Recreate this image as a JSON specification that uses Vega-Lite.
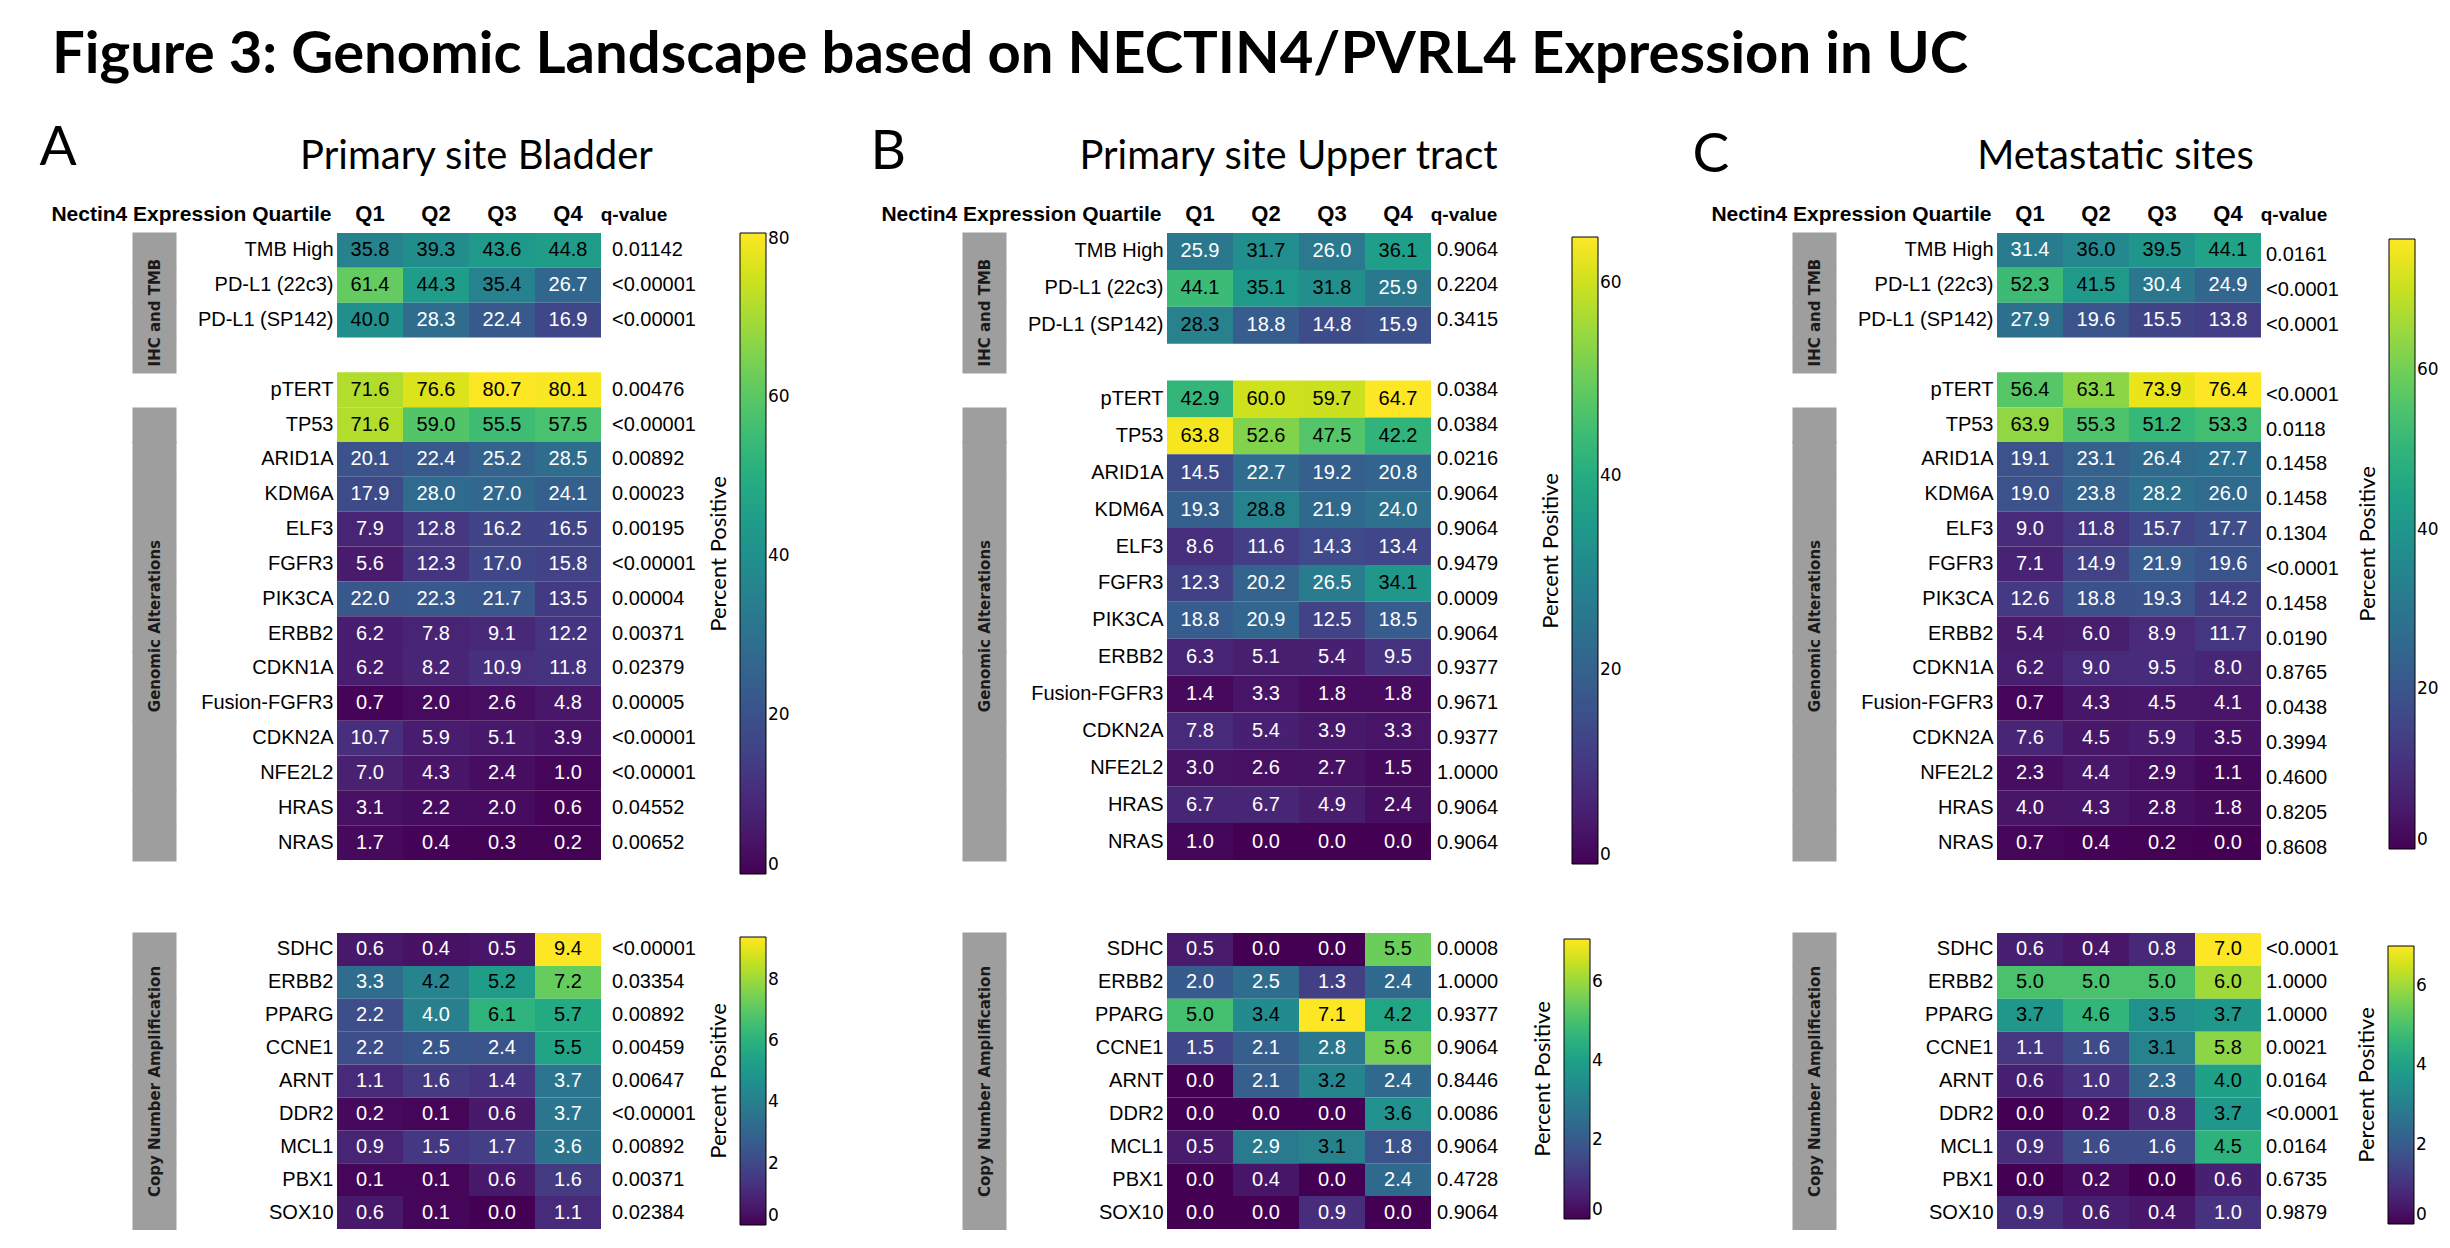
{
"$schema": "https://vega.github.io/schema/vega-lite/v6.json",
"autosize": {"type": "pad"},
"padding": {"left": 39, "top": 27, "right": 0, "bottom": 0},
"background": "white",
"title": {"text": "Figure 3: Genomic Landscape based on NECTIN4/PVRL4 Expression in UC", "anchor": "start", "frame": "bounds", "dx": 13, "offset": -23, "baseline": "bottom", "font": "Lato", "fontSize": 58, "fontWeight": "bold", "color": "black"},
"datasets": {
"cells": [
{"panel":"A","section":"top","gene":"TMB High","quartile":"Q1","pct":35.8},{"panel":"A","section":"top","gene":"TMB High","quartile":"Q2","pct":39.3},{"panel":"A","section":"top","gene":"TMB High","quartile":"Q3","pct":43.6},{"panel":"A","section":"top","gene":"TMB High","quartile":"Q4","pct":44.8},
{"panel":"A","section":"top","gene":"PD-L1 (22c3)","quartile":"Q1","pct":61.4},{"panel":"A","section":"top","gene":"PD-L1 (22c3)","quartile":"Q2","pct":44.3},{"panel":"A","section":"top","gene":"PD-L1 (22c3)","quartile":"Q3","pct":35.4},{"panel":"A","section":"top","gene":"PD-L1 (22c3)","quartile":"Q4","pct":26.7},
{"panel":"A","section":"top","gene":"PD-L1 (SP142)","quartile":"Q1","pct":40.0},{"panel":"A","section":"top","gene":"PD-L1 (SP142)","quartile":"Q2","pct":28.3},{"panel":"A","section":"top","gene":"PD-L1 (SP142)","quartile":"Q3","pct":22.4},{"panel":"A","section":"top","gene":"PD-L1 (SP142)","quartile":"Q4","pct":16.9},
{"panel":"A","section":"top","gene":"pTERT","quartile":"Q1","pct":71.6},{"panel":"A","section":"top","gene":"pTERT","quartile":"Q2","pct":76.6},{"panel":"A","section":"top","gene":"pTERT","quartile":"Q3","pct":80.7},{"panel":"A","section":"top","gene":"pTERT","quartile":"Q4","pct":80.1},
{"panel":"A","section":"top","gene":"TP53","quartile":"Q1","pct":71.6},{"panel":"A","section":"top","gene":"TP53","quartile":"Q2","pct":59.0},{"panel":"A","section":"top","gene":"TP53","quartile":"Q3","pct":55.5},{"panel":"A","section":"top","gene":"TP53","quartile":"Q4","pct":57.5},
{"panel":"A","section":"top","gene":"ARID1A","quartile":"Q1","pct":20.1},{"panel":"A","section":"top","gene":"ARID1A","quartile":"Q2","pct":22.4},{"panel":"A","section":"top","gene":"ARID1A","quartile":"Q3","pct":25.2},{"panel":"A","section":"top","gene":"ARID1A","quartile":"Q4","pct":28.5},
{"panel":"A","section":"top","gene":"KDM6A","quartile":"Q1","pct":17.9},{"panel":"A","section":"top","gene":"KDM6A","quartile":"Q2","pct":28.0},{"panel":"A","section":"top","gene":"KDM6A","quartile":"Q3","pct":27.0},{"panel":"A","section":"top","gene":"KDM6A","quartile":"Q4","pct":24.1},
{"panel":"A","section":"top","gene":"ELF3","quartile":"Q1","pct":7.9},{"panel":"A","section":"top","gene":"ELF3","quartile":"Q2","pct":12.8},{"panel":"A","section":"top","gene":"ELF3","quartile":"Q3","pct":16.2},{"panel":"A","section":"top","gene":"ELF3","quartile":"Q4","pct":16.5},
{"panel":"A","section":"top","gene":"FGFR3","quartile":"Q1","pct":5.6},{"panel":"A","section":"top","gene":"FGFR3","quartile":"Q2","pct":12.3},{"panel":"A","section":"top","gene":"FGFR3","quartile":"Q3","pct":17.0},{"panel":"A","section":"top","gene":"FGFR3","quartile":"Q4","pct":15.8},
{"panel":"A","section":"top","gene":"PIK3CA","quartile":"Q1","pct":22.0},{"panel":"A","section":"top","gene":"PIK3CA","quartile":"Q2","pct":22.3},{"panel":"A","section":"top","gene":"PIK3CA","quartile":"Q3","pct":21.7},{"panel":"A","section":"top","gene":"PIK3CA","quartile":"Q4","pct":13.5},
{"panel":"A","section":"top","gene":"ERBB2","quartile":"Q1","pct":6.2},{"panel":"A","section":"top","gene":"ERBB2","quartile":"Q2","pct":7.8},{"panel":"A","section":"top","gene":"ERBB2","quartile":"Q3","pct":9.1},{"panel":"A","section":"top","gene":"ERBB2","quartile":"Q4","pct":12.2},
{"panel":"A","section":"top","gene":"CDKN1A","quartile":"Q1","pct":6.2},{"panel":"A","section":"top","gene":"CDKN1A","quartile":"Q2","pct":8.2},{"panel":"A","section":"top","gene":"CDKN1A","quartile":"Q3","pct":10.9},{"panel":"A","section":"top","gene":"CDKN1A","quartile":"Q4","pct":11.8},
{"panel":"A","section":"top","gene":"Fusion-FGFR3","quartile":"Q1","pct":0.7},{"panel":"A","section":"top","gene":"Fusion-FGFR3","quartile":"Q2","pct":2.0},{"panel":"A","section":"top","gene":"Fusion-FGFR3","quartile":"Q3","pct":2.6},{"panel":"A","section":"top","gene":"Fusion-FGFR3","quartile":"Q4","pct":4.8},
{"panel":"A","section":"top","gene":"CDKN2A","quartile":"Q1","pct":10.7},{"panel":"A","section":"top","gene":"CDKN2A","quartile":"Q2","pct":5.9},{"panel":"A","section":"top","gene":"CDKN2A","quartile":"Q3","pct":5.1},{"panel":"A","section":"top","gene":"CDKN2A","quartile":"Q4","pct":3.9},
{"panel":"A","section":"top","gene":"NFE2L2","quartile":"Q1","pct":7.0},{"panel":"A","section":"top","gene":"NFE2L2","quartile":"Q2","pct":4.3},{"panel":"A","section":"top","gene":"NFE2L2","quartile":"Q3","pct":2.4},{"panel":"A","section":"top","gene":"NFE2L2","quartile":"Q4","pct":1.0},
{"panel":"A","section":"top","gene":"HRAS","quartile":"Q1","pct":3.1},{"panel":"A","section":"top","gene":"HRAS","quartile":"Q2","pct":2.2},{"panel":"A","section":"top","gene":"HRAS","quartile":"Q3","pct":2.0},{"panel":"A","section":"top","gene":"HRAS","quartile":"Q4","pct":0.6},
{"panel":"A","section":"top","gene":"NRAS","quartile":"Q1","pct":1.7},{"panel":"A","section":"top","gene":"NRAS","quartile":"Q2","pct":0.4},{"panel":"A","section":"top","gene":"NRAS","quartile":"Q3","pct":0.3},{"panel":"A","section":"top","gene":"NRAS","quartile":"Q4","pct":0.2},
{"panel":"A","section":"cn","gene":"SDHC","quartile":"Q1","pct":0.6},{"panel":"A","section":"cn","gene":"SDHC","quartile":"Q2","pct":0.4},{"panel":"A","section":"cn","gene":"SDHC","quartile":"Q3","pct":0.5},{"panel":"A","section":"cn","gene":"SDHC","quartile":"Q4","pct":9.4},
{"panel":"A","section":"cn","gene":"ERBB2","quartile":"Q1","pct":3.3},{"panel":"A","section":"cn","gene":"ERBB2","quartile":"Q2","pct":4.2},{"panel":"A","section":"cn","gene":"ERBB2","quartile":"Q3","pct":5.2},{"panel":"A","section":"cn","gene":"ERBB2","quartile":"Q4","pct":7.2},
{"panel":"A","section":"cn","gene":"PPARG","quartile":"Q1","pct":2.2},{"panel":"A","section":"cn","gene":"PPARG","quartile":"Q2","pct":4.0},{"panel":"A","section":"cn","gene":"PPARG","quartile":"Q3","pct":6.1},{"panel":"A","section":"cn","gene":"PPARG","quartile":"Q4","pct":5.7},
{"panel":"A","section":"cn","gene":"CCNE1","quartile":"Q1","pct":2.2},{"panel":"A","section":"cn","gene":"CCNE1","quartile":"Q2","pct":2.5},{"panel":"A","section":"cn","gene":"CCNE1","quartile":"Q3","pct":2.4},{"panel":"A","section":"cn","gene":"CCNE1","quartile":"Q4","pct":5.5},
{"panel":"A","section":"cn","gene":"ARNT","quartile":"Q1","pct":1.1},{"panel":"A","section":"cn","gene":"ARNT","quartile":"Q2","pct":1.6},{"panel":"A","section":"cn","gene":"ARNT","quartile":"Q3","pct":1.4},{"panel":"A","section":"cn","gene":"ARNT","quartile":"Q4","pct":3.7},
{"panel":"A","section":"cn","gene":"DDR2","quartile":"Q1","pct":0.2},{"panel":"A","section":"cn","gene":"DDR2","quartile":"Q2","pct":0.1},{"panel":"A","section":"cn","gene":"DDR2","quartile":"Q3","pct":0.6},{"panel":"A","section":"cn","gene":"DDR2","quartile":"Q4","pct":3.7},
{"panel":"A","section":"cn","gene":"MCL1","quartile":"Q1","pct":0.9},{"panel":"A","section":"cn","gene":"MCL1","quartile":"Q2","pct":1.5},{"panel":"A","section":"cn","gene":"MCL1","quartile":"Q3","pct":1.7},{"panel":"A","section":"cn","gene":"MCL1","quartile":"Q4","pct":3.6},
{"panel":"A","section":"cn","gene":"PBX1","quartile":"Q1","pct":0.1},{"panel":"A","section":"cn","gene":"PBX1","quartile":"Q2","pct":0.1},{"panel":"A","section":"cn","gene":"PBX1","quartile":"Q3","pct":0.6},{"panel":"A","section":"cn","gene":"PBX1","quartile":"Q4","pct":1.6},
{"panel":"A","section":"cn","gene":"SOX10","quartile":"Q1","pct":0.6},{"panel":"A","section":"cn","gene":"SOX10","quartile":"Q2","pct":0.1},{"panel":"A","section":"cn","gene":"SOX10","quartile":"Q3","pct":0.0},{"panel":"A","section":"cn","gene":"SOX10","quartile":"Q4","pct":1.1},
{"panel":"B","section":"top","gene":"TMB High","quartile":"Q1","pct":25.9},{"panel":"B","section":"top","gene":"TMB High","quartile":"Q2","pct":31.7},{"panel":"B","section":"top","gene":"TMB High","quartile":"Q3","pct":26.0},{"panel":"B","section":"top","gene":"TMB High","quartile":"Q4","pct":36.1},
{"panel":"B","section":"top","gene":"PD-L1 (22c3)","quartile":"Q1","pct":44.1},{"panel":"B","section":"top","gene":"PD-L1 (22c3)","quartile":"Q2","pct":35.1},{"panel":"B","section":"top","gene":"PD-L1 (22c3)","quartile":"Q3","pct":31.8},{"panel":"B","section":"top","gene":"PD-L1 (22c3)","quartile":"Q4","pct":25.9},
{"panel":"B","section":"top","gene":"PD-L1 (SP142)","quartile":"Q1","pct":28.3},{"panel":"B","section":"top","gene":"PD-L1 (SP142)","quartile":"Q2","pct":18.8},{"panel":"B","section":"top","gene":"PD-L1 (SP142)","quartile":"Q3","pct":14.8},{"panel":"B","section":"top","gene":"PD-L1 (SP142)","quartile":"Q4","pct":15.9},
{"panel":"B","section":"top","gene":"pTERT","quartile":"Q1","pct":42.9},{"panel":"B","section":"top","gene":"pTERT","quartile":"Q2","pct":60.0},{"panel":"B","section":"top","gene":"pTERT","quartile":"Q3","pct":59.7},{"panel":"B","section":"top","gene":"pTERT","quartile":"Q4","pct":64.7},
{"panel":"B","section":"top","gene":"TP53","quartile":"Q1","pct":63.8},{"panel":"B","section":"top","gene":"TP53","quartile":"Q2","pct":52.6},{"panel":"B","section":"top","gene":"TP53","quartile":"Q3","pct":47.5},{"panel":"B","section":"top","gene":"TP53","quartile":"Q4","pct":42.2},
{"panel":"B","section":"top","gene":"ARID1A","quartile":"Q1","pct":14.5},{"panel":"B","section":"top","gene":"ARID1A","quartile":"Q2","pct":22.7},{"panel":"B","section":"top","gene":"ARID1A","quartile":"Q3","pct":19.2},{"panel":"B","section":"top","gene":"ARID1A","quartile":"Q4","pct":20.8},
{"panel":"B","section":"top","gene":"KDM6A","quartile":"Q1","pct":19.3},{"panel":"B","section":"top","gene":"KDM6A","quartile":"Q2","pct":28.8},{"panel":"B","section":"top","gene":"KDM6A","quartile":"Q3","pct":21.9},{"panel":"B","section":"top","gene":"KDM6A","quartile":"Q4","pct":24.0},
{"panel":"B","section":"top","gene":"ELF3","quartile":"Q1","pct":8.6},{"panel":"B","section":"top","gene":"ELF3","quartile":"Q2","pct":11.6},{"panel":"B","section":"top","gene":"ELF3","quartile":"Q3","pct":14.3},{"panel":"B","section":"top","gene":"ELF3","quartile":"Q4","pct":13.4},
{"panel":"B","section":"top","gene":"FGFR3","quartile":"Q1","pct":12.3},{"panel":"B","section":"top","gene":"FGFR3","quartile":"Q2","pct":20.2},{"panel":"B","section":"top","gene":"FGFR3","quartile":"Q3","pct":26.5},{"panel":"B","section":"top","gene":"FGFR3","quartile":"Q4","pct":34.1},
{"panel":"B","section":"top","gene":"PIK3CA","quartile":"Q1","pct":18.8},{"panel":"B","section":"top","gene":"PIK3CA","quartile":"Q2","pct":20.9},{"panel":"B","section":"top","gene":"PIK3CA","quartile":"Q3","pct":12.5},{"panel":"B","section":"top","gene":"PIK3CA","quartile":"Q4","pct":18.5},
{"panel":"B","section":"top","gene":"ERBB2","quartile":"Q1","pct":6.3},{"panel":"B","section":"top","gene":"ERBB2","quartile":"Q2","pct":5.1},{"panel":"B","section":"top","gene":"ERBB2","quartile":"Q3","pct":5.4},{"panel":"B","section":"top","gene":"ERBB2","quartile":"Q4","pct":9.5},
{"panel":"B","section":"top","gene":"Fusion-FGFR3","quartile":"Q1","pct":1.4},{"panel":"B","section":"top","gene":"Fusion-FGFR3","quartile":"Q2","pct":3.3},{"panel":"B","section":"top","gene":"Fusion-FGFR3","quartile":"Q3","pct":1.8},{"panel":"B","section":"top","gene":"Fusion-FGFR3","quartile":"Q4","pct":1.8},
{"panel":"B","section":"top","gene":"CDKN2A","quartile":"Q1","pct":7.8},{"panel":"B","section":"top","gene":"CDKN2A","quartile":"Q2","pct":5.4},{"panel":"B","section":"top","gene":"CDKN2A","quartile":"Q3","pct":3.9},{"panel":"B","section":"top","gene":"CDKN2A","quartile":"Q4","pct":3.3},
{"panel":"B","section":"top","gene":"NFE2L2","quartile":"Q1","pct":3.0},{"panel":"B","section":"top","gene":"NFE2L2","quartile":"Q2","pct":2.6},{"panel":"B","section":"top","gene":"NFE2L2","quartile":"Q3","pct":2.7},{"panel":"B","section":"top","gene":"NFE2L2","quartile":"Q4","pct":1.5},
{"panel":"B","section":"top","gene":"HRAS","quartile":"Q1","pct":6.7},{"panel":"B","section":"top","gene":"HRAS","quartile":"Q2","pct":6.7},{"panel":"B","section":"top","gene":"HRAS","quartile":"Q3","pct":4.9},{"panel":"B","section":"top","gene":"HRAS","quartile":"Q4","pct":2.4},
{"panel":"B","section":"top","gene":"NRAS","quartile":"Q1","pct":1.0},{"panel":"B","section":"top","gene":"NRAS","quartile":"Q2","pct":0.0},{"panel":"B","section":"top","gene":"NRAS","quartile":"Q3","pct":0.0},{"panel":"B","section":"top","gene":"NRAS","quartile":"Q4","pct":0.0},
{"panel":"B","section":"cn","gene":"SDHC","quartile":"Q1","pct":0.5},{"panel":"B","section":"cn","gene":"SDHC","quartile":"Q2","pct":0.0},{"panel":"B","section":"cn","gene":"SDHC","quartile":"Q3","pct":0.0},{"panel":"B","section":"cn","gene":"SDHC","quartile":"Q4","pct":5.5},
{"panel":"B","section":"cn","gene":"ERBB2","quartile":"Q1","pct":2.0},{"panel":"B","section":"cn","gene":"ERBB2","quartile":"Q2","pct":2.5},{"panel":"B","section":"cn","gene":"ERBB2","quartile":"Q3","pct":1.3},{"panel":"B","section":"cn","gene":"ERBB2","quartile":"Q4","pct":2.4},
{"panel":"B","section":"cn","gene":"PPARG","quartile":"Q1","pct":5.0},{"panel":"B","section":"cn","gene":"PPARG","quartile":"Q2","pct":3.4},{"panel":"B","section":"cn","gene":"PPARG","quartile":"Q3","pct":7.1},{"panel":"B","section":"cn","gene":"PPARG","quartile":"Q4","pct":4.2},
{"panel":"B","section":"cn","gene":"CCNE1","quartile":"Q1","pct":1.5},{"panel":"B","section":"cn","gene":"CCNE1","quartile":"Q2","pct":2.1},{"panel":"B","section":"cn","gene":"CCNE1","quartile":"Q3","pct":2.8},{"panel":"B","section":"cn","gene":"CCNE1","quartile":"Q4","pct":5.6},
{"panel":"B","section":"cn","gene":"ARNT","quartile":"Q1","pct":0.0},{"panel":"B","section":"cn","gene":"ARNT","quartile":"Q2","pct":2.1},{"panel":"B","section":"cn","gene":"ARNT","quartile":"Q3","pct":3.2},{"panel":"B","section":"cn","gene":"ARNT","quartile":"Q4","pct":2.4},
{"panel":"B","section":"cn","gene":"DDR2","quartile":"Q1","pct":0.0},{"panel":"B","section":"cn","gene":"DDR2","quartile":"Q2","pct":0.0},{"panel":"B","section":"cn","gene":"DDR2","quartile":"Q3","pct":0.0},{"panel":"B","section":"cn","gene":"DDR2","quartile":"Q4","pct":3.6},
{"panel":"B","section":"cn","gene":"MCL1","quartile":"Q1","pct":0.5},{"panel":"B","section":"cn","gene":"MCL1","quartile":"Q2","pct":2.9},{"panel":"B","section":"cn","gene":"MCL1","quartile":"Q3","pct":3.1},{"panel":"B","section":"cn","gene":"MCL1","quartile":"Q4","pct":1.8},
{"panel":"B","section":"cn","gene":"PBX1","quartile":"Q1","pct":0.0},{"panel":"B","section":"cn","gene":"PBX1","quartile":"Q2","pct":0.4},{"panel":"B","section":"cn","gene":"PBX1","quartile":"Q3","pct":0.0},{"panel":"B","section":"cn","gene":"PBX1","quartile":"Q4","pct":2.4},
{"panel":"B","section":"cn","gene":"SOX10","quartile":"Q1","pct":0.0},{"panel":"B","section":"cn","gene":"SOX10","quartile":"Q2","pct":0.0},{"panel":"B","section":"cn","gene":"SOX10","quartile":"Q3","pct":0.9},{"panel":"B","section":"cn","gene":"SOX10","quartile":"Q4","pct":0.0},
{"panel":"C","section":"top","gene":"TMB High","quartile":"Q1","pct":31.4},{"panel":"C","section":"top","gene":"TMB High","quartile":"Q2","pct":36.0},{"panel":"C","section":"top","gene":"TMB High","quartile":"Q3","pct":39.5},{"panel":"C","section":"top","gene":"TMB High","quartile":"Q4","pct":44.1},
{"panel":"C","section":"top","gene":"PD-L1 (22c3)","quartile":"Q1","pct":52.3},{"panel":"C","section":"top","gene":"PD-L1 (22c3)","quartile":"Q2","pct":41.5},{"panel":"C","section":"top","gene":"PD-L1 (22c3)","quartile":"Q3","pct":30.4},{"panel":"C","section":"top","gene":"PD-L1 (22c3)","quartile":"Q4","pct":24.9},
{"panel":"C","section":"top","gene":"PD-L1 (SP142)","quartile":"Q1","pct":27.9},{"panel":"C","section":"top","gene":"PD-L1 (SP142)","quartile":"Q2","pct":19.6},{"panel":"C","section":"top","gene":"PD-L1 (SP142)","quartile":"Q3","pct":15.5},{"panel":"C","section":"top","gene":"PD-L1 (SP142)","quartile":"Q4","pct":13.8},
{"panel":"C","section":"top","gene":"pTERT","quartile":"Q1","pct":56.4},{"panel":"C","section":"top","gene":"pTERT","quartile":"Q2","pct":63.1},{"panel":"C","section":"top","gene":"pTERT","quartile":"Q3","pct":73.9},{"panel":"C","section":"top","gene":"pTERT","quartile":"Q4","pct":76.4},
{"panel":"C","section":"top","gene":"TP53","quartile":"Q1","pct":63.9},{"panel":"C","section":"top","gene":"TP53","quartile":"Q2","pct":55.3},{"panel":"C","section":"top","gene":"TP53","quartile":"Q3","pct":51.2},{"panel":"C","section":"top","gene":"TP53","quartile":"Q4","pct":53.3},
{"panel":"C","section":"top","gene":"ARID1A","quartile":"Q1","pct":19.1},{"panel":"C","section":"top","gene":"ARID1A","quartile":"Q2","pct":23.1},{"panel":"C","section":"top","gene":"ARID1A","quartile":"Q3","pct":26.4},{"panel":"C","section":"top","gene":"ARID1A","quartile":"Q4","pct":27.7},
{"panel":"C","section":"top","gene":"KDM6A","quartile":"Q1","pct":19.0},{"panel":"C","section":"top","gene":"KDM6A","quartile":"Q2","pct":23.8},{"panel":"C","section":"top","gene":"KDM6A","quartile":"Q3","pct":28.2},{"panel":"C","section":"top","gene":"KDM6A","quartile":"Q4","pct":26.0},
{"panel":"C","section":"top","gene":"ELF3","quartile":"Q1","pct":9.0},{"panel":"C","section":"top","gene":"ELF3","quartile":"Q2","pct":11.8},{"panel":"C","section":"top","gene":"ELF3","quartile":"Q3","pct":15.7},{"panel":"C","section":"top","gene":"ELF3","quartile":"Q4","pct":17.7},
{"panel":"C","section":"top","gene":"FGFR3","quartile":"Q1","pct":7.1},{"panel":"C","section":"top","gene":"FGFR3","quartile":"Q2","pct":14.9},{"panel":"C","section":"top","gene":"FGFR3","quartile":"Q3","pct":21.9},{"panel":"C","section":"top","gene":"FGFR3","quartile":"Q4","pct":19.6},
{"panel":"C","section":"top","gene":"PIK3CA","quartile":"Q1","pct":12.6},{"panel":"C","section":"top","gene":"PIK3CA","quartile":"Q2","pct":18.8},{"panel":"C","section":"top","gene":"PIK3CA","quartile":"Q3","pct":19.3},{"panel":"C","section":"top","gene":"PIK3CA","quartile":"Q4","pct":14.2},
{"panel":"C","section":"top","gene":"ERBB2","quartile":"Q1","pct":5.4},{"panel":"C","section":"top","gene":"ERBB2","quartile":"Q2","pct":6.0},{"panel":"C","section":"top","gene":"ERBB2","quartile":"Q3","pct":8.9},{"panel":"C","section":"top","gene":"ERBB2","quartile":"Q4","pct":11.7},
{"panel":"C","section":"top","gene":"CDKN1A","quartile":"Q1","pct":6.2},{"panel":"C","section":"top","gene":"CDKN1A","quartile":"Q2","pct":9.0},{"panel":"C","section":"top","gene":"CDKN1A","quartile":"Q3","pct":9.5},{"panel":"C","section":"top","gene":"CDKN1A","quartile":"Q4","pct":8.0},
{"panel":"C","section":"top","gene":"Fusion-FGFR3","quartile":"Q1","pct":0.7},{"panel":"C","section":"top","gene":"Fusion-FGFR3","quartile":"Q2","pct":4.3},{"panel":"C","section":"top","gene":"Fusion-FGFR3","quartile":"Q3","pct":4.5},{"panel":"C","section":"top","gene":"Fusion-FGFR3","quartile":"Q4","pct":4.1},
{"panel":"C","section":"top","gene":"CDKN2A","quartile":"Q1","pct":7.6},{"panel":"C","section":"top","gene":"CDKN2A","quartile":"Q2","pct":4.5},{"panel":"C","section":"top","gene":"CDKN2A","quartile":"Q3","pct":5.9},{"panel":"C","section":"top","gene":"CDKN2A","quartile":"Q4","pct":3.5},
{"panel":"C","section":"top","gene":"NFE2L2","quartile":"Q1","pct":2.3},{"panel":"C","section":"top","gene":"NFE2L2","quartile":"Q2","pct":4.4},{"panel":"C","section":"top","gene":"NFE2L2","quartile":"Q3","pct":2.9},{"panel":"C","section":"top","gene":"NFE2L2","quartile":"Q4","pct":1.1},
{"panel":"C","section":"top","gene":"HRAS","quartile":"Q1","pct":4.0},{"panel":"C","section":"top","gene":"HRAS","quartile":"Q2","pct":4.3},{"panel":"C","section":"top","gene":"HRAS","quartile":"Q3","pct":2.8},{"panel":"C","section":"top","gene":"HRAS","quartile":"Q4","pct":1.8},
{"panel":"C","section":"top","gene":"NRAS","quartile":"Q1","pct":0.7},{"panel":"C","section":"top","gene":"NRAS","quartile":"Q2","pct":0.4},{"panel":"C","section":"top","gene":"NRAS","quartile":"Q3","pct":0.2},{"panel":"C","section":"top","gene":"NRAS","quartile":"Q4","pct":0.0},
{"panel":"C","section":"cn","gene":"SDHC","quartile":"Q1","pct":0.6},{"panel":"C","section":"cn","gene":"SDHC","quartile":"Q2","pct":0.4},{"panel":"C","section":"cn","gene":"SDHC","quartile":"Q3","pct":0.8},{"panel":"C","section":"cn","gene":"SDHC","quartile":"Q4","pct":7.0},
{"panel":"C","section":"cn","gene":"ERBB2","quartile":"Q1","pct":5.0},{"panel":"C","section":"cn","gene":"ERBB2","quartile":"Q2","pct":5.0},{"panel":"C","section":"cn","gene":"ERBB2","quartile":"Q3","pct":5.0},{"panel":"C","section":"cn","gene":"ERBB2","quartile":"Q4","pct":6.0},
{"panel":"C","section":"cn","gene":"PPARG","quartile":"Q1","pct":3.7},{"panel":"C","section":"cn","gene":"PPARG","quartile":"Q2","pct":4.6},{"panel":"C","section":"cn","gene":"PPARG","quartile":"Q3","pct":3.5},{"panel":"C","section":"cn","gene":"PPARG","quartile":"Q4","pct":3.7},
{"panel":"C","section":"cn","gene":"CCNE1","quartile":"Q1","pct":1.1},{"panel":"C","section":"cn","gene":"CCNE1","quartile":"Q2","pct":1.6},{"panel":"C","section":"cn","gene":"CCNE1","quartile":"Q3","pct":3.1},{"panel":"C","section":"cn","gene":"CCNE1","quartile":"Q4","pct":5.8},
{"panel":"C","section":"cn","gene":"ARNT","quartile":"Q1","pct":0.6},{"panel":"C","section":"cn","gene":"ARNT","quartile":"Q2","pct":1.0},{"panel":"C","section":"cn","gene":"ARNT","quartile":"Q3","pct":2.3},{"panel":"C","section":"cn","gene":"ARNT","quartile":"Q4","pct":4.0},
{"panel":"C","section":"cn","gene":"DDR2","quartile":"Q1","pct":0.0},{"panel":"C","section":"cn","gene":"DDR2","quartile":"Q2","pct":0.2},{"panel":"C","section":"cn","gene":"DDR2","quartile":"Q3","pct":0.8},{"panel":"C","section":"cn","gene":"DDR2","quartile":"Q4","pct":3.7},
{"panel":"C","section":"cn","gene":"MCL1","quartile":"Q1","pct":0.9},{"panel":"C","section":"cn","gene":"MCL1","quartile":"Q2","pct":1.6},{"panel":"C","section":"cn","gene":"MCL1","quartile":"Q3","pct":1.6},{"panel":"C","section":"cn","gene":"MCL1","quartile":"Q4","pct":4.5},
{"panel":"C","section":"cn","gene":"PBX1","quartile":"Q1","pct":0.0},{"panel":"C","section":"cn","gene":"PBX1","quartile":"Q2","pct":0.2},{"panel":"C","section":"cn","gene":"PBX1","quartile":"Q3","pct":0.0},{"panel":"C","section":"cn","gene":"PBX1","quartile":"Q4","pct":0.6},
{"panel":"C","section":"cn","gene":"SOX10","quartile":"Q1","pct":0.9},{"panel":"C","section":"cn","gene":"SOX10","quartile":"Q2","pct":0.6},{"panel":"C","section":"cn","gene":"SOX10","quartile":"Q3","pct":0.4},{"panel":"C","section":"cn","gene":"SOX10","quartile":"Q4","pct":1.0}
],
"qvals": [
{"panel":"A","section":"top","gene":"TMB High","qval":"0.01142"},{"panel":"A","section":"top","gene":"PD-L1 (22c3)","qval":"<0.00001"},{"panel":"A","section":"top","gene":"PD-L1 (SP142)","qval":"<0.00001"},
{"panel":"A","section":"top","gene":"pTERT","qval":"0.00476"},{"panel":"A","section":"top","gene":"TP53","qval":"<0.00001"},{"panel":"A","section":"top","gene":"ARID1A","qval":"0.00892"},{"panel":"A","section":"top","gene":"KDM6A","qval":"0.00023"},{"panel":"A","section":"top","gene":"ELF3","qval":"0.00195"},{"panel":"A","section":"top","gene":"FGFR3","qval":"<0.00001"},{"panel":"A","section":"top","gene":"PIK3CA","qval":"0.00004"},{"panel":"A","section":"top","gene":"ERBB2","qval":"0.00371"},{"panel":"A","section":"top","gene":"CDKN1A","qval":"0.02379"},{"panel":"A","section":"top","gene":"Fusion-FGFR3","qval":"0.00005"},{"panel":"A","section":"top","gene":"CDKN2A","qval":"<0.00001"},{"panel":"A","section":"top","gene":"NFE2L2","qval":"<0.00001"},{"panel":"A","section":"top","gene":"HRAS","qval":"0.04552"},{"panel":"A","section":"top","gene":"NRAS","qval":"0.00652"},
{"panel":"A","section":"cn","gene":"SDHC","qval":"<0.00001"},{"panel":"A","section":"cn","gene":"ERBB2","qval":"0.03354"},{"panel":"A","section":"cn","gene":"PPARG","qval":"0.00892"},{"panel":"A","section":"cn","gene":"CCNE1","qval":"0.00459"},{"panel":"A","section":"cn","gene":"ARNT","qval":"0.00647"},{"panel":"A","section":"cn","gene":"DDR2","qval":"<0.00001"},{"panel":"A","section":"cn","gene":"MCL1","qval":"0.00892"},{"panel":"A","section":"cn","gene":"PBX1","qval":"0.00371"},{"panel":"A","section":"cn","gene":"SOX10","qval":"0.02384"},
{"panel":"B","section":"top","gene":"TMB High","qval":"0.9064"},{"panel":"B","section":"top","gene":"PD-L1 (22c3)","qval":"0.2204"},{"panel":"B","section":"top","gene":"PD-L1 (SP142)","qval":"0.3415"},
{"panel":"B","section":"top","gene":"pTERT","qval":"0.0384"},{"panel":"B","section":"top","gene":"TP53","qval":"0.0384"},{"panel":"B","section":"top","gene":"ARID1A","qval":"0.0216"},{"panel":"B","section":"top","gene":"KDM6A","qval":"0.9064"},{"panel":"B","section":"top","gene":"ELF3","qval":"0.9064"},{"panel":"B","section":"top","gene":"FGFR3","qval":"0.9479"},{"panel":"B","section":"top","gene":"PIK3CA","qval":"0.0009"},{"panel":"B","section":"top","gene":"ERBB2","qval":"0.9064"},{"panel":"B","section":"top","gene":"CDKN1A","qval":"0.9377"},{"panel":"B","section":"top","gene":"Fusion-FGFR3","qval":"0.9671"},{"panel":"B","section":"top","gene":"CDKN2A","qval":"0.9377"},{"panel":"B","section":"top","gene":"NFE2L2","qval":"1.0000"},{"panel":"B","section":"top","gene":"HRAS","qval":"0.9064"},{"panel":"B","section":"top","gene":"NRAS","qval":"0.9064"},
{"panel":"B","section":"cn","gene":"SDHC","qval":"0.0008"},{"panel":"B","section":"cn","gene":"ERBB2","qval":"1.0000"},{"panel":"B","section":"cn","gene":"PPARG","qval":"0.9377"},{"panel":"B","section":"cn","gene":"CCNE1","qval":"0.9064"},{"panel":"B","section":"cn","gene":"ARNT","qval":"0.8446"},{"panel":"B","section":"cn","gene":"DDR2","qval":"0.0086"},{"panel":"B","section":"cn","gene":"MCL1","qval":"0.9064"},{"panel":"B","section":"cn","gene":"PBX1","qval":"0.4728"},{"panel":"B","section":"cn","gene":"SOX10","qval":"0.9064"},
{"panel":"C","section":"top","gene":"TMB High","qval":"0.0161"},{"panel":"C","section":"top","gene":"PD-L1 (22c3)","qval":"<0.0001"},{"panel":"C","section":"top","gene":"PD-L1 (SP142)","qval":"<0.0001"},
{"panel":"C","section":"top","gene":"pTERT","qval":"<0.0001"},{"panel":"C","section":"top","gene":"TP53","qval":"0.0118"},{"panel":"C","section":"top","gene":"ARID1A","qval":"0.1458"},{"panel":"C","section":"top","gene":"KDM6A","qval":"0.1458"},{"panel":"C","section":"top","gene":"ELF3","qval":"0.1304"},{"panel":"C","section":"top","gene":"FGFR3","qval":"<0.0001"},{"panel":"C","section":"top","gene":"PIK3CA","qval":"0.1458"},{"panel":"C","section":"top","gene":"ERBB2","qval":"0.0190"},{"panel":"C","section":"top","gene":"CDKN1A","qval":"0.8765"},{"panel":"C","section":"top","gene":"Fusion-FGFR3","qval":"0.0438"},{"panel":"C","section":"top","gene":"CDKN2A","qval":"0.3994"},{"panel":"C","section":"top","gene":"NFE2L2","qval":"0.4600"},{"panel":"C","section":"top","gene":"HRAS","qval":"0.8205"},{"panel":"C","section":"top","gene":"NRAS","qval":"0.8608"},
{"panel":"C","section":"cn","gene":"SDHC","qval":"<0.0001"},{"panel":"C","section":"cn","gene":"ERBB2","qval":"1.0000"},{"panel":"C","section":"cn","gene":"PPARG","qval":"1.0000"},{"panel":"C","section":"cn","gene":"CCNE1","qval":"0.0021"},{"panel":"C","section":"cn","gene":"ARNT","qval":"0.0164"},{"panel":"C","section":"cn","gene":"DDR2","qval":"<0.0001"},{"panel":"C","section":"cn","gene":"MCL1","qval":"0.0164"},{"panel":"C","section":"cn","gene":"PBX1","qval":"0.6735"},{"panel":"C","section":"cn","gene":"SOX10","qval":"0.9879"}
]
},
"columns": 3,
"spacing": {"row": 73, "column": 500},
"bounds": "flush",
"resolve": {"scale": {"color": "independent", "x": "independent", "y": "independent"}, "legend": {"color": "independent"}, "axis": {"x": "independent", "y": "independent"}},
"concat": [
{
 "width": 330, "height": 627,
 "layer": [
  {
   "data": {"name": "cells"},
   "transform": [{"filter": "datum.panel === 'A' && datum.section === 'top'"}],
   "encoding": {
    "x": {"field": "quartile", "type": "nominal", "scale": {"domain": ["Q1","Q2","Q3","Q4","q-value"], "paddingInner": 0, "paddingOuter": 0},
      "axis": {"orient": "top", "domain": false, "ticks": false, "tickSize": 0, "grid": false, "labelAngle": 0, "labelPadding": 13, "labelBaseline": "alphabetic", "labelFont": "Liberation Sans", "labelFontWeight": "bold", "labelColor": "black",
        "labelFontSize": {"condition": {"test": "datum.value === 'q-value'", "value": 19}, "value": 22},
        "title": "Nectin4 Expression Quartile", "titleX": -6, "titleY": -13, "titleAlign": "right", "titleBaseline": "alphabetic", "titleFont": "Liberation Sans", "titleFontSize": 21, "titleFontWeight": "bold", "titleColor": "black"}},
    "y": {"field": "gene", "type": "nominal", "scale": {"domain": ["TMB High","PD-L1 (22c3)","PD-L1 (SP142)"," ","pTERT","TP53","ARID1A","KDM6A","ELF3","FGFR3","PIK3CA","ERBB2","CDKN1A","Fusion-FGFR3","CDKN2A","NFE2L2","HRAS","NRAS"], "paddingInner": 0, "paddingOuter": 0},
      "axis": {"orient": "left", "domain": false, "ticks": false, "tickSize": 0, "grid": false, "labelPadding": 4, "labelFont": "Liberation Sans", "labelFontSize": 20, "labelColor": "black", "labelLimit": 0, "labelOverlap": false,
        "title": "A", "titleAngle": 0, "titleX": -298, "titleY": -69, "titleAlign": "left", "titleBaseline": "alphabetic", "titleFont": "Lato", "titleFontSize": 55, "titleFontWeight": "normal", "titleColor": "black"}}
   },
   "layer": [
    {"mark": {"type": "rect"},
     "encoding": {"color": {"field": "pct", "type": "quantitative", "scale": {"scheme": "viridis", "zero": true, "nice": false},
       "legend": {"orient": "none", "legendX": 371, "legendY": 0, "direction": "vertical", "gradientLength": 641, "gradientThickness": 26, "values": [0,20,40,60,80], "title": "Percent Positive"}}}},
    {"transform": [{"joinaggregate": [{"op": "max", "field": "pct", "as": "maxPct"}]}],
     "mark": {"type": "text", "font": "Liberation Sans", "fontSize": 20},
     "encoding": {"text": {"field": "pct", "type": "quantitative", "format": ".1f"},
       "color": {"condition": {"test": "datum.pct >= 0.43 * datum.maxPct", "value": "black"}, "value": "white"}}}
   ]
  },
  {
   "data": {"name": "qvals"},
   "transform": [{"filter": "datum.panel === 'A' && datum.section === 'top'"}],
   "mark": {"type": "text", "align": "left", "dx": -22, "font": "Liberation Sans", "fontSize": 20, "color": "black"},
   "encoding": {
    "x": {"datum": "q-value", "type": "nominal", "scale": {"domain": ["Q1","Q2","Q3","Q4","q-value"], "paddingInner": 0, "paddingOuter": 0},
      "axis": {"orient": "top", "domain": false, "ticks": false, "tickSize": 0, "grid": false, "labelAngle": 0, "labelPadding": 13, "labelBaseline": "alphabetic", "labelFont": "Liberation Sans", "labelFontWeight": "bold", "labelColor": "black",
        "labelFontSize": {"condition": {"test": "datum.value === 'q-value'", "value": 19}, "value": 22},
        "title": "Nectin4 Expression Quartile", "titleX": -6, "titleY": -13, "titleAlign": "right", "titleBaseline": "alphabetic", "titleFont": "Liberation Sans", "titleFontSize": 21, "titleFontWeight": "bold", "titleColor": "black"}},
    "y": {"field": "gene", "type": "nominal", "scale": {"domain": ["TMB High","PD-L1 (22c3)","PD-L1 (SP142)"," ","pTERT","TP53","ARID1A","KDM6A","ELF3","FGFR3","PIK3CA","ERBB2","CDKN1A","Fusion-FGFR3","CDKN2A","NFE2L2","HRAS","NRAS"], "paddingInner": 0, "paddingOuter": 0},
      "axis": {"orient": "left", "offset": 161, "values": ["TMB High","PD-L1 (22c3)","PD-L1 (SP142)"," ","TP53","ARID1A","KDM6A","ELF3","FGFR3","PIK3CA","ERBB2","CDKN1A","Fusion-FGFR3","CDKN2A","NFE2L2","HRAS","NRAS"], "bandPosition": 0.5, "domain": false, "grid": false, "ticks": true, "tickSize": 44, "tickColor": "#9e9e9e", "tickOpacity": 1, "tickWidth": 36,
        "labelExpr": "datum.value === 'PD-L1 (SP142)' ? 'IHC and TMB' : datum.value === 'ERBB2' ? 'Genomic Alterations' : ''",
        "labelAngle": 270, "labelAlign": "center", "labelBaseline": "middle", "labelPadding": -22, "labelOffset": -8, "labelFont": "DejaVu Sans", "labelFontWeight": "bold", "labelFontSize": 15, "labelColor": "#1a1a1a", "labelLimit": 0, "labelOverlap": false, "labelBound": false,
        "title": "Primary site Bladder", "titleAngle": 0, "titleX": 300, "titleY": -65, "titleAlign": "center", "titleBaseline": "alphabetic", "titleFont": "Lato", "titleFontSize": 40, "titleFontWeight": "normal", "titleColor": "black"}},
    "text": {"field": "qval", "type": "nominal"}
   }
  }
 ],
 "resolve": {"scale": {"y": "independent"}, "axis": {"y": "independent"}}
},
{
 "width": 330, "height": 627,
 "layer": [
  {
   "data": {"name": "cells"},
   "transform": [{"filter": "datum.panel === 'B' && datum.section === 'top'"}],
   "encoding": {
    "x": {"field": "quartile", "type": "nominal", "scale": {"domain": ["Q1","Q2","Q3","Q4","q-value"], "paddingInner": 0, "paddingOuter": 0},
      "axis": {"orient": "top", "domain": false, "ticks": false, "tickSize": 0, "grid": false, "labelAngle": 0, "labelPadding": 13, "labelBaseline": "alphabetic", "labelFont": "Liberation Sans", "labelFontWeight": "bold", "labelColor": "black",
        "labelFontSize": {"condition": {"test": "datum.value === 'q-value'", "value": 19}, "value": 22},
        "title": "Nectin4 Expression Quartile", "titleX": -6, "titleY": -13, "titleAlign": "right", "titleBaseline": "alphabetic", "titleFont": "Liberation Sans", "titleFontSize": 21, "titleFontWeight": "bold", "titleColor": "black"}},
    "y": {"field": "gene", "type": "nominal", "scale": {"domain": ["TMB High","PD-L1 (22c3)","PD-L1 (SP142)"," ","pTERT","TP53","ARID1A","KDM6A","ELF3","FGFR3","PIK3CA","ERBB2","Fusion-FGFR3","CDKN2A","NFE2L2","HRAS","NRAS"], "paddingInner": 0, "paddingOuter": 0},
      "axis": {"orient": "left", "domain": false, "ticks": false, "tickSize": 0, "grid": false, "labelPadding": 4, "labelFont": "Liberation Sans", "labelFontSize": 20, "labelColor": "black", "labelLimit": 0, "labelOverlap": false,
        "title": "B", "titleAngle": 0, "titleX": -297, "titleY": -65, "titleAlign": "left", "titleBaseline": "alphabetic", "titleFont": "Lato", "titleFontSize": 55, "titleFontWeight": "normal", "titleColor": "black"}}
   },
   "layer": [
    {"mark": {"type": "rect"},
     "encoding": {"color": {"field": "pct", "type": "quantitative", "scale": {"scheme": "viridis", "zero": true, "nice": false},
       "legend": {"orient": "none", "legendX": 373, "legendY": 4, "direction": "vertical", "gradientLength": 627, "gradientThickness": 26, "values": [0,20,40,60], "title": "Percent Positive"}}}},
    {"transform": [{"joinaggregate": [{"op": "max", "field": "pct", "as": "maxPct"}]}],
     "mark": {"type": "text", "font": "Liberation Sans", "fontSize": 20},
     "encoding": {"text": {"field": "pct", "type": "quantitative", "format": ".1f"},
       "color": {"condition": {"test": "datum.pct >= 0.43 * datum.maxPct", "value": "black"}, "value": "white"}}}
   ]
  },
  {
   "data": {"name": "qvals"},
   "transform": [{"filter": "datum.panel === 'B' && datum.section === 'top'"}],
   "mark": {"type": "text", "align": "left", "dx": -27, "font": "Liberation Sans", "fontSize": 20, "color": "black"},
   "encoding": {
    "x": {"datum": "q-value", "type": "nominal", "scale": {"domain": ["Q1","Q2","Q3","Q4","q-value"], "paddingInner": 0, "paddingOuter": 0},
      "axis": {"orient": "top", "domain": false, "ticks": false, "tickSize": 0, "grid": false, "labelAngle": 0, "labelPadding": 13, "labelBaseline": "alphabetic", "labelFont": "Liberation Sans", "labelFontWeight": "bold", "labelColor": "black",
        "labelFontSize": {"condition": {"test": "datum.value === 'q-value'", "value": 19}, "value": 22},
        "title": "Nectin4 Expression Quartile", "titleX": -6, "titleY": -13, "titleAlign": "right", "titleBaseline": "alphabetic", "titleFont": "Liberation Sans", "titleFontSize": 21, "titleFontWeight": "bold", "titleColor": "black"}},
    "y": {"field": "gene", "type": "nominal", "scale": {"domain": ["TMB High","PD-L1 (22c3)","PD-L1 (SP142)"," ","pTERT","TP53","ARID1A","KDM6A","ELF3","FGFR3","PIK3CA","ERBB2","CDKN1A","Fusion-FGFR3","CDKN2A","NFE2L2","HRAS","NRAS"], "paddingInner": 0, "paddingOuter": 0},
      "axis": {"orient": "left", "offset": 161, "values": ["TMB High","PD-L1 (22c3)","PD-L1 (SP142)"," ","TP53","ARID1A","KDM6A","ELF3","FGFR3","PIK3CA","ERBB2","CDKN1A","Fusion-FGFR3","CDKN2A","NFE2L2","HRAS","NRAS"], "bandPosition": 0.5, "domain": false, "grid": false, "ticks": true, "tickSize": 44, "tickColor": "#9e9e9e", "tickOpacity": 1, "tickWidth": 36,
        "labelExpr": "datum.value === 'PD-L1 (SP142)' ? 'IHC and TMB' : datum.value === 'ERBB2' ? 'Genomic Alterations' : ''",
        "labelAngle": 270, "labelAlign": "center", "labelBaseline": "middle", "labelPadding": -22, "labelOffset": -8, "labelFont": "DejaVu Sans", "labelFontWeight": "bold", "labelFontSize": 15, "labelColor": "#1a1a1a", "labelLimit": 0, "labelOverlap": false, "labelBound": false,
        "title": "Primary site Upper tract", "titleAngle": 0, "titleX": 282, "titleY": -65, "titleAlign": "center", "titleBaseline": "alphabetic", "titleFont": "Lato", "titleFontSize": 40, "titleFontWeight": "normal", "titleColor": "black"}},
    "text": {"field": "qval", "type": "nominal"}
   }
  }
 ],
 "resolve": {"scale": {"y": "independent"}, "axis": {"y": "independent"}}
},
{
 "width": 330, "height": 627,
 "layer": [
  {
   "data": {"name": "cells"},
   "transform": [{"filter": "datum.panel === 'C' && datum.section === 'top'"}],
   "encoding": {
    "x": {"field": "quartile", "type": "nominal", "scale": {"domain": ["Q1","Q2","Q3","Q4","q-value"], "paddingInner": 0, "paddingOuter": 0},
      "axis": {"orient": "top", "domain": false, "ticks": false, "tickSize": 0, "grid": false, "labelAngle": 0, "labelPadding": 13, "labelBaseline": "alphabetic", "labelFont": "Liberation Sans", "labelFontWeight": "bold", "labelColor": "black",
        "labelFontSize": {"condition": {"test": "datum.value === 'q-value'", "value": 19}, "value": 22},
        "title": "Nectin4 Expression Quartile", "titleX": -6, "titleY": -13, "titleAlign": "right", "titleBaseline": "alphabetic", "titleFont": "Liberation Sans", "titleFontSize": 21, "titleFontWeight": "bold", "titleColor": "black"}},
    "y": {"field": "gene", "type": "nominal", "scale": {"domain": ["TMB High","PD-L1 (22c3)","PD-L1 (SP142)"," ","pTERT","TP53","ARID1A","KDM6A","ELF3","FGFR3","PIK3CA","ERBB2","CDKN1A","Fusion-FGFR3","CDKN2A","NFE2L2","HRAS","NRAS"], "paddingInner": 0, "paddingOuter": 0},
      "axis": {"orient": "left", "domain": false, "ticks": false, "tickSize": 0, "grid": false, "labelPadding": 4, "labelFont": "Liberation Sans", "labelFontSize": 20, "labelColor": "black", "labelLimit": 0, "labelOverlap": false,
        "title": "C", "titleAngle": 0, "titleX": -305, "titleY": -62, "titleAlign": "left", "titleBaseline": "alphabetic", "titleFont": "Lato", "titleFontSize": 55, "titleFontWeight": "normal", "titleColor": "black"}}
   },
   "layer": [
    {"mark": {"type": "rect"},
     "encoding": {"color": {"field": "pct", "type": "quantitative", "scale": {"scheme": "viridis", "zero": true, "nice": false},
       "legend": {"orient": "none", "legendX": 360, "legendY": 6, "direction": "vertical", "gradientLength": 610, "gradientThickness": 26, "values": [0,20,40,60], "title": "Percent Positive"}}}},
    {"transform": [{"joinaggregate": [{"op": "max", "field": "pct", "as": "maxPct"}]}],
     "mark": {"type": "text", "font": "Liberation Sans", "fontSize": 20},
     "encoding": {"text": {"field": "pct", "type": "quantitative", "format": ".1f"},
       "color": {"condition": {"test": "datum.pct >= 0.43 * datum.maxPct", "value": "black"}, "value": "white"}}}
   ]
  },
  {
   "data": {"name": "qvals"},
   "transform": [{"filter": "datum.panel === 'C' && datum.section === 'top'"}],
   "mark": {"type": "text", "align": "left", "dx": -28, "dy": 5, "font": "Liberation Sans", "fontSize": 20, "color": "black"},
   "encoding": {
    "x": {"datum": "q-value", "type": "nominal", "scale": {"domain": ["Q1","Q2","Q3","Q4","q-value"], "paddingInner": 0, "paddingOuter": 0},
      "axis": {"orient": "top", "domain": false, "ticks": false, "tickSize": 0, "grid": false, "labelAngle": 0, "labelPadding": 13, "labelBaseline": "alphabetic", "labelFont": "Liberation Sans", "labelFontWeight": "bold", "labelColor": "black",
        "labelFontSize": {"condition": {"test": "datum.value === 'q-value'", "value": 19}, "value": 22},
        "title": "Nectin4 Expression Quartile", "titleX": -6, "titleY": -13, "titleAlign": "right", "titleBaseline": "alphabetic", "titleFont": "Liberation Sans", "titleFontSize": 21, "titleFontWeight": "bold", "titleColor": "black"}},
    "y": {"field": "gene", "type": "nominal", "scale": {"domain": ["TMB High","PD-L1 (22c3)","PD-L1 (SP142)"," ","pTERT","TP53","ARID1A","KDM6A","ELF3","FGFR3","PIK3CA","ERBB2","CDKN1A","Fusion-FGFR3","CDKN2A","NFE2L2","HRAS","NRAS"], "paddingInner": 0, "paddingOuter": 0},
      "axis": {"orient": "left", "offset": 161, "values": ["TMB High","PD-L1 (22c3)","PD-L1 (SP142)"," ","TP53","ARID1A","KDM6A","ELF3","FGFR3","PIK3CA","ERBB2","CDKN1A","Fusion-FGFR3","CDKN2A","NFE2L2","HRAS","NRAS"], "bandPosition": 0.5, "domain": false, "grid": false, "ticks": true, "tickSize": 44, "tickColor": "#9e9e9e", "tickOpacity": 1, "tickWidth": 36,
        "labelExpr": "datum.value === 'PD-L1 (SP142)' ? 'IHC and TMB' : datum.value === 'ERBB2' ? 'Genomic Alterations' : ''",
        "labelAngle": 270, "labelAlign": "center", "labelBaseline": "middle", "labelPadding": -22, "labelOffset": -8, "labelFont": "DejaVu Sans", "labelFontWeight": "bold", "labelFontSize": 15, "labelColor": "#1a1a1a", "labelLimit": 0, "labelOverlap": false, "labelBound": false,
        "title": "Metastatic sites", "titleAngle": 0, "titleX": 279, "titleY": -65, "titleAlign": "center", "titleBaseline": "alphabetic", "titleFont": "Lato", "titleFontSize": 40, "titleFontWeight": "normal", "titleColor": "black"}},
    "text": {"field": "qval", "type": "nominal"}
   }
  }
 ],
 "resolve": {"scale": {"y": "independent"}, "axis": {"y": "independent"}}
},
{
 "width": 330, "height": 296,
 "layer": [
  {
   "data": {"name": "cells"},
   "transform": [{"filter": "datum.panel === 'A' && datum.section === 'cn'"}],
   "encoding": {
    "x": {"field": "quartile", "type": "nominal", "scale": {"domain": ["Q1","Q2","Q3","Q4","q-value"], "paddingInner": 0, "paddingOuter": 0}, "axis": null},
    "y": {"field": "gene", "type": "nominal", "scale": {"domain": ["SDHC","ERBB2","PPARG","CCNE1","ARNT","DDR2","MCL1","PBX1","SOX10"], "paddingInner": 0, "paddingOuter": 0},
      "axis": {"orient": "left", "domain": false, "ticks": false, "tickSize": 0, "grid": false, "labelPadding": 4, "labelFont": "Liberation Sans", "labelFontSize": 20, "labelColor": "black", "labelLimit": 0, "labelOverlap": false, "title": null}}
   },
   "layer": [
    {"mark": {"type": "rect"},
     "encoding": {"color": {"field": "pct", "type": "quantitative", "scale": {"scheme": "viridis", "zero": true, "nice": false},
       "legend": {"orient": "none", "legendX": 371, "legendY": 4, "direction": "vertical", "gradientLength": 288, "gradientThickness": 26, "values": [0,2,4,6,8], "title": "Percent Positive"}}}},
    {"transform": [{"joinaggregate": [{"op": "max", "field": "pct", "as": "maxPct"}]}],
     "mark": {"type": "text", "font": "Liberation Sans", "fontSize": 20},
     "encoding": {"text": {"field": "pct", "type": "quantitative", "format": ".1f"},
       "color": {"condition": {"test": "datum.pct >= 0.43 * datum.maxPct", "value": "black"}, "value": "white"}}}
   ]
  },
  {
   "data": {"name": "qvals"},
   "transform": [{"filter": "datum.panel === 'A' && datum.section === 'cn'"}],
   "mark": {"type": "text", "align": "left", "dx": -22, "font": "Liberation Sans", "fontSize": 20, "color": "black"},
   "encoding": {
    "x": {"datum": "q-value", "type": "nominal", "scale": {"domain": ["Q1","Q2","Q3","Q4","q-value"], "paddingInner": 0, "paddingOuter": 0}, "axis": null},
    "y": {"field": "gene", "type": "nominal", "scale": {"domain": ["SDHC","ERBB2","PPARG","CCNE1","ARNT","DDR2","MCL1","PBX1","SOX10"], "paddingInner": 0, "paddingOuter": 0},
      "axis": {"orient": "left", "offset": 161, "values": ["SDHC","ERBB2","PPARG","CCNE1","ARNT","DDR2","MCL1","PBX1","SOX10"], "bandPosition": 0.5, "domain": false, "grid": false, "ticks": true, "tickSize": 44, "tickColor": "#9e9e9e", "tickOpacity": 1, "tickWidth": 34,
        "labelExpr": "datum.value === 'ARNT' ? 'Copy Number Amplification' : ''",
        "labelAngle": 270, "labelAlign": "center", "labelBaseline": "middle", "labelPadding": -22, "labelFont": "DejaVu Sans", "labelFontWeight": "bold", "labelFontSize": 15, "labelColor": "#1a1a1a", "labelLimit": 0, "labelOverlap": false, "labelBound": false, "title": null}},
    "text": {"field": "qval", "type": "nominal"}
   }
  }
 ],
 "resolve": {"scale": {"y": "independent"}, "axis": {"y": "independent"}}
},
{
 "width": 330, "height": 296,
 "layer": [
  {
   "data": {"name": "cells"},
   "transform": [{"filter": "datum.panel === 'B' && datum.section === 'cn'"}],
   "encoding": {
    "x": {"field": "quartile", "type": "nominal", "scale": {"domain": ["Q1","Q2","Q3","Q4","q-value"], "paddingInner": 0, "paddingOuter": 0}, "axis": null},
    "y": {"field": "gene", "type": "nominal", "scale": {"domain": ["SDHC","ERBB2","PPARG","CCNE1","ARNT","DDR2","MCL1","PBX1","SOX10"], "paddingInner": 0, "paddingOuter": 0},
      "axis": {"orient": "left", "domain": false, "ticks": false, "tickSize": 0, "grid": false, "labelPadding": 4, "labelFont": "Liberation Sans", "labelFontSize": 20, "labelColor": "black", "labelLimit": 0, "labelOverlap": false, "title": null}}
   },
   "layer": [
    {"mark": {"type": "rect"},
     "encoding": {"color": {"field": "pct", "type": "quantitative", "scale": {"scheme": "viridis", "zero": true, "nice": false},
       "legend": {"orient": "none", "legendX": 365, "legendY": 6, "direction": "vertical", "gradientLength": 280, "gradientThickness": 26, "values": [0,2,4,6], "title": "Percent Positive"}}}},
    {"transform": [{"joinaggregate": [{"op": "max", "field": "pct", "as": "maxPct"}]}],
     "mark": {"type": "text", "font": "Liberation Sans", "fontSize": 20},
     "encoding": {"text": {"field": "pct", "type": "quantitative", "format": ".1f"},
       "color": {"condition": {"test": "datum.pct >= 0.43 * datum.maxPct", "value": "black"}, "value": "white"}}}
   ]
  },
  {
   "data": {"name": "qvals"},
   "transform": [{"filter": "datum.panel === 'B' && datum.section === 'cn'"}],
   "mark": {"type": "text", "align": "left", "dx": -27, "font": "Liberation Sans", "fontSize": 20, "color": "black"},
   "encoding": {
    "x": {"datum": "q-value", "type": "nominal", "scale": {"domain": ["Q1","Q2","Q3","Q4","q-value"], "paddingInner": 0, "paddingOuter": 0}, "axis": null},
    "y": {"field": "gene", "type": "nominal", "scale": {"domain": ["SDHC","ERBB2","PPARG","CCNE1","ARNT","DDR2","MCL1","PBX1","SOX10"], "paddingInner": 0, "paddingOuter": 0},
      "axis": {"orient": "left", "offset": 161, "values": ["SDHC","ERBB2","PPARG","CCNE1","ARNT","DDR2","MCL1","PBX1","SOX10"], "bandPosition": 0.5, "domain": false, "grid": false, "ticks": true, "tickSize": 44, "tickColor": "#9e9e9e", "tickOpacity": 1, "tickWidth": 34,
        "labelExpr": "datum.value === 'ARNT' ? 'Copy Number Amplification' : ''",
        "labelAngle": 270, "labelAlign": "center", "labelBaseline": "middle", "labelPadding": -22, "labelFont": "DejaVu Sans", "labelFontWeight": "bold", "labelFontSize": 15, "labelColor": "#1a1a1a", "labelLimit": 0, "labelOverlap": false, "labelBound": false, "title": null}},
    "text": {"field": "qval", "type": "nominal"}
   }
  }
 ],
 "resolve": {"scale": {"y": "independent"}, "axis": {"y": "independent"}}
},
{
 "width": 330, "height": 296,
 "layer": [
  {
   "data": {"name": "cells"},
   "transform": [{"filter": "datum.panel === 'C' && datum.section === 'cn'"}],
   "encoding": {
    "x": {"field": "quartile", "type": "nominal", "scale": {"domain": ["Q1","Q2","Q3","Q4","q-value"], "paddingInner": 0, "paddingOuter": 0}, "axis": null},
    "y": {"field": "gene", "type": "nominal", "scale": {"domain": ["SDHC","ERBB2","PPARG","CCNE1","ARNT","DDR2","MCL1","PBX1","SOX10"], "paddingInner": 0, "paddingOuter": 0},
      "axis": {"orient": "left", "domain": false, "ticks": false, "tickSize": 0, "grid": false, "labelPadding": 4, "labelFont": "Liberation Sans", "labelFontSize": 20, "labelColor": "black", "labelLimit": 0, "labelOverlap": false, "title": null}}
   },
   "layer": [
    {"mark": {"type": "rect"},
     "encoding": {"color": {"field": "pct", "type": "quantitative", "scale": {"scheme": "viridis", "zero": true, "nice": false},
       "legend": {"orient": "none", "legendX": 359, "legendY": 13, "direction": "vertical", "gradientLength": 278, "gradientThickness": 26, "values": [0,2,4,6], "title": "Percent Positive"}}}},
    {"transform": [{"joinaggregate": [{"op": "max", "field": "pct", "as": "maxPct"}]}],
     "mark": {"type": "text", "font": "Liberation Sans", "fontSize": 20},
     "encoding": {"text": {"field": "pct", "type": "quantitative", "format": ".1f"},
       "color": {"condition": {"test": "datum.pct >= 0.43 * datum.maxPct", "value": "black"}, "value": "white"}}}
   ]
  },
  {
   "data": {"name": "qvals"},
   "transform": [{"filter": "datum.panel === 'C' && datum.section === 'cn'"}],
   "mark": {"type": "text", "align": "left", "dx": -28, "font": "Liberation Sans", "fontSize": 20, "color": "black"},
   "encoding": {
    "x": {"datum": "q-value", "type": "nominal", "scale": {"domain": ["Q1","Q2","Q3","Q4","q-value"], "paddingInner": 0, "paddingOuter": 0}, "axis": null},
    "y": {"field": "gene", "type": "nominal", "scale": {"domain": ["SDHC","ERBB2","PPARG","CCNE1","ARNT","DDR2","MCL1","PBX1","SOX10"], "paddingInner": 0, "paddingOuter": 0},
      "axis": {"orient": "left", "offset": 161, "values": ["SDHC","ERBB2","PPARG","CCNE1","ARNT","DDR2","MCL1","PBX1","SOX10"], "bandPosition": 0.5, "domain": false, "grid": false, "ticks": true, "tickSize": 44, "tickColor": "#9e9e9e", "tickOpacity": 1, "tickWidth": 34,
        "labelExpr": "datum.value === 'ARNT' ? 'Copy Number Amplification' : ''",
        "labelAngle": 270, "labelAlign": "center", "labelBaseline": "middle", "labelPadding": -22, "labelFont": "DejaVu Sans", "labelFontWeight": "bold", "labelFontSize": 15, "labelColor": "#1a1a1a", "labelLimit": 0, "labelOverlap": false, "labelBound": false, "title": null}},
    "text": {"field": "qval", "type": "nominal"}
   }
  }
 ],
 "resolve": {"scale": {"y": "independent"}, "axis": {"y": "independent"}}
}
],
"config": {
 "view": {"stroke": null},
 "legend": {"padding": 0, "gradientStrokeColor": "black", "gradientStrokeWidth": 1, "labelFont": "DejaVu Sans", "labelFontSize": 17, "labelColor": "black", "labelOffset": 12,
   "titleOrient": "left", "titleAngle": 270, "titleAnchor": "middle", "titleAlign": "center", "titleBaseline": "bottom", "titleFont": "Lato", "titleFontSize": 22, "titleFontWeight": "normal", "titleColor": "black", "titlePadding": -14, "titleLimit": 0}
}
}
